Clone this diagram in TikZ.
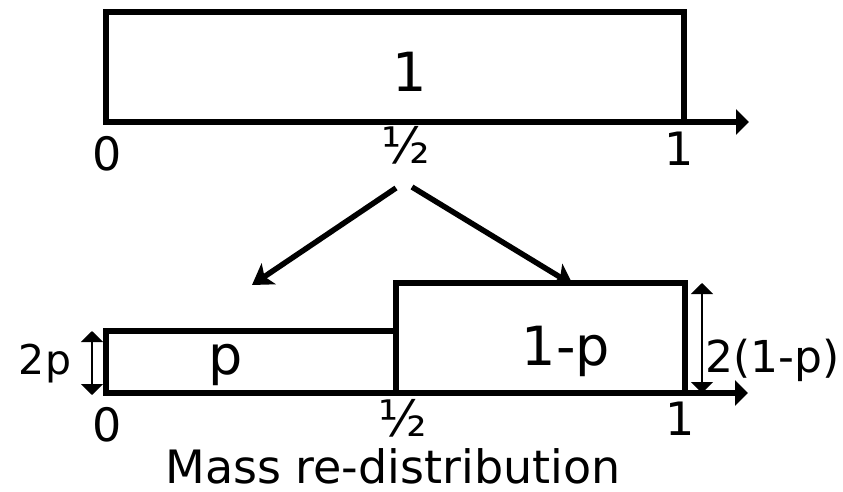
\documentclass[tikz,border=0pt]{standalone}
\usepackage{fontspec}
\setmainfont{DejaVu Sans}
\usetikzlibrary{arrows.meta}
\begin{document}
\begin{tikzpicture}[x=1pt,y=-1pt,
  box/.style={line width=6pt,line join=miter},
  axis/.style={line width=5.5pt,-{Triangle[length=13pt,width=25pt]}},
  branch/.style={line width=5.5pt,-{Stealth[length=20pt,width=25pt,inset=5pt]}},
  dim/.style={line width=2pt,{Triangle[length=11pt,width=22pt]}-{Triangle[length=11pt,width=22pt]}},
  tick/.style={anchor=base,inner sep=0pt,font=\fontsize{46}{46}\selectfont},
  half/.style={anchor=base,inner sep=0pt,font=\fontsize{50}{50}\selectfont},
  big/.style={anchor=base,inner sep=0pt,font=\fontsize{54}{54}\selectfont},
  small/.style={anchor=base,inner sep=0pt,font=\fontsize{41}{41}\selectfont},
  caption/.style={anchor=base,inner sep=0pt,font=\fontsize{46}{46}\selectfont}]
\useasboundingbox (0,0) rectangle (843,492);
% top distribution
\coordinate (tA) at (103,122);
\coordinate (tB) at (749,122);
\draw[box] (106,12) rectangle (684,122);
\draw[axis] (tA) -- (tB);
\node[big] (tone) at (410,92) {1};
\node[tick] (t0) at (107,171) {0};
\node[half] (th) at (406,164) {½};
\node[tick] (t1) at (679,165) {1};
% branching arrows
\coordinate (lstart) at (396,188);
\coordinate (lend) at (252,285);
\coordinate (rstart) at (412,187);
\coordinate (rend) at (573,285);
\draw[branch] (lstart) -- (lend);
\draw[branch] (rstart) -- (rend);
% bottom distribution
\coordinate (bA) at (103,393);
\coordinate (bB) at (748,393);
\draw[box] (106,393) -- (106,331) -- (396,331) -- (396,393);
\draw[box] (396,331) -- (396,283) -- (685,283) -- (685,393);
\draw[axis] (bA) -- (bB);
\node[big] (pl) at (226,374) {p};
\node[big] (ql) at (566,365) {1-p};
% dimension arrows
\coordinate (d1a) at (92,331);
\coordinate (d1b) at (92,395);
\draw[dim] (d1a) -- (d1b);
\node[small] (twop) at (45,374) {2p};
\coordinate (d2a) at (702,283);
\coordinate (d2b) at (702,393);
\draw[dim] (d2a) -- (d2b);
\node[small,font=\fontsize{44}{44}\selectfont,anchor=base west] (twoq) at (705,372) {2(1-p)};
% bottom labels
\node[tick] (b0) at (107,441) {0};
\node[half] (bh) at (403,436) {½};
\node[tick] (b1) at (680,435) {1};
\node[caption] (cap) at (393,483) {Mass re-distribution};
\end{tikzpicture}
\end{document}
